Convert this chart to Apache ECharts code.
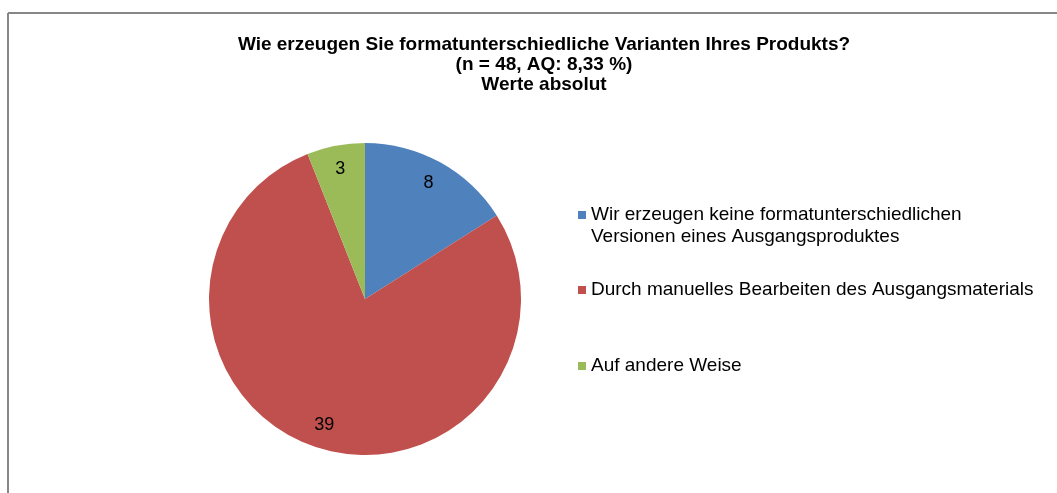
<!DOCTYPE html>
<html>
<head>
<meta charset="utf-8">
<script src="https://cdn.jsdelivr.net/npm/echarts@6/dist/echarts.min.js"></script>
<style>
  html, body { margin: 0; padding: 0; background: #fff; }
  #chart { width: 1057px; height: 493px; }
</style>
</head>
<body>
<div id="chart"></div>
<script>
// Antworten und Werte (absolut)
var categories = [
    'Wir erzeugen keine formatunterschiedlichen\nVersionen eines Ausgangsproduktes',
    'Durch manuelles Bearbeiten des Ausgangsmaterials',
    'Auf andere Weise'
];
var values = [8, 39, 3];
var colors = ['#4F81BD', '#C0504D', '#9BBB59'];

var titleLines = [
    'Wie erzeugen Sie formatunterschiedliche Varianten Ihres Produkts?',
    '(n = 48, AQ: 8,33 %)',
    'Werte absolut'
];

var pieData = categories.map(function (name, i) {
    return { name: name, value: values[i], itemStyle: { color: colors[i] } };
});

var font = 'Arial, "Liberation Sans", sans-serif';

// Quadrat oben am Eintrag (für den zweizeiligen Eintrag), Rest unsichtbar
var topSquare = 'path://M0,0L8,0L8,8L0,8Z M0,30L0.01,30L0,30.01Z';

// Legende: jeweils ein Eintrag, damit die Abstände wie im Original sind
var legendTops = [204, 279, 355];
var legends = categories.map(function (name, i) {
    var twoLines = name.indexOf('\n') >= 0;
    return {
        orient: 'vertical',
        left: 578,
        top: legendTops[i],
        padding: 0,
        itemWidth: 8,
        itemHeight: twoLines ? 30 : 8,
        icon: twoLines ? topSquare : 'rect',
        selectedMode: false,
        data: [name],
        textStyle: { fontFamily: font, fontSize: 19, color: '#000', lineHeight: 22 }
    };
});

var myChart = echarts.init(document.getElementById('chart'));
var option = {
    animation: false,
    backgroundColor: '#fff',
    title: {
        text: titleLines.join('\n'),
        left: 539,
        top: 30,
        textAlign: 'center',
        textStyle: { fontFamily: font, fontSize: 19, fontWeight: 'bold', color: '#000', lineHeight: 20 }
    },
    legend: legends,
    graphic: [
        { type: 'line', shape: { x1: 8, y1: 13, x2: 1057, y2: 13 }, style: { stroke: '#878787', lineWidth: 2 }, silent: true },
        { type: 'line', shape: { x1: 8, y1: 13, x2: 8, y2: 493 }, style: { stroke: '#878787', lineWidth: 2 }, silent: true }
    ],
    series: [
        {
            type: 'pie',
            center: [365, 299],
            radius: [0, 156],
            startAngle: 90,
            clockwise: true,
            label: { show: false },
            labelLine: { show: false },
            emphasis: { disabled: true },
            data: pieData
        },
        {
            // unsichtbarer Ring nur für die Beschriftung (Position bei ca. 0.83 r)
            type: 'pie',
            center: [365, 299],
            radius: [102, 156],
            startAngle: 90,
            clockwise: true,
            silent: true,
            z: 3,
            itemStyle: { color: 'rgba(0,0,0,0)' },
            label: {
                show: true,
                position: 'inside',
                formatter: '{c}',
                fontFamily: font,
                fontSize: 18,
                color: '#000'
            },
            labelLine: { show: false },
            data: categories.map(function (name, i) { return { name: name, value: values[i] }; })
        }
    ]
};
myChart.setOption(option);
</script>
</body>
</html>
